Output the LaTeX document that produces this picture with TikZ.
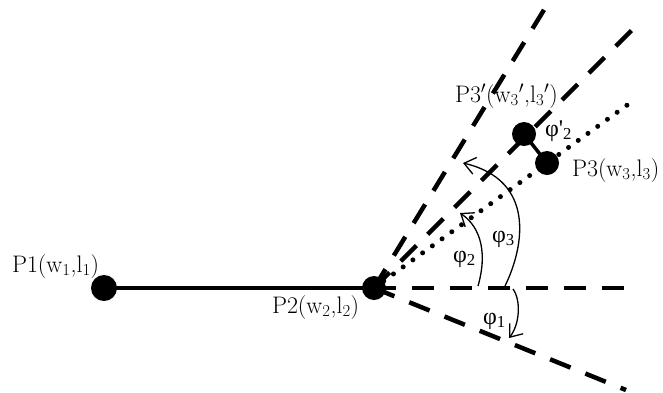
\documentclass[tikz,border=0pt]{standalone}
\usepackage{fontspec}
\newfontfamily\grk{Liberation Serif}
\usetikzlibrary{arrows.meta}
\begin{document}
\begin{tikzpicture}[x=1bp,y=-1bp,
  every node/.style={inner sep=0pt,outer sep=0pt,font=\fontsize{24}{28}\selectfont},
  pt/.style={circle,fill=black,minimum size=24bp},
  bigdash/.style={line width=4.5bp,dash pattern=on 22bp off 16bp},
  bigdot/.style={line width=5bp,line cap=round,dash pattern=on 0bp off 12bp},
  solidline/.style={line width=4.5bp},
  anglearrow/.style={line width=1.3bp,-{Straight Barb[length=11bp,width=17bp,line width=1.3bp]}},
  lbl/.style={anchor=base west},
  phi/.style={font=\fontsize{24}{28}\selectfont\grk}]
\useasboundingbox (0,0) rectangle (663,392);
% points
\coordinate (c1) at (104,288);
\coordinate (c2) at (374,288);
\coordinate (c3p) at (524,134);
\coordinate (c3) at (547,163);
% ends of rays
\coordinate (eh) at (628,288);
\coordinate (elow) at (626,390);
\coordinate (esteep) at (550,0);
\coordinate (e45) at (636,26);
\coordinate (edot) at (630,103);
% rays
\draw[bigdash] (c2) -- (eh);
\draw[bigdash] (c2) -- (elow);
\draw[bigdash] (c2) -- (esteep);
\draw[bigdash] (c2) -- (e45);
\draw[bigdot] (c2) -- (edot);
% solid segments
\draw[solidline] (c1) -- (c2);
\draw[line width=3.5bp] (c3p) -- (c3);
% dots
\node[pt,minimum size=26bp] (P1) at (c1) {};
\node[pt] (P2) at (c2) {};
\node[pt] (P3p) at (c3p) {};
\node[pt] (P3) at (c3) {};
% angle arrows
\coordinate (a2s) at (478,286);
\coordinate (a2e) at (460,213);
\draw[anglearrow] (a2s) .. controls (487,255) and (482,228) .. (a2e);
\coordinate (a3s) at (505,286);
\coordinate (a3e) at (463,163);
\draw[anglearrow] (a3s) .. controls (525,245) and (535,180) .. (a3e);
\coordinate (a1s) at (513,289);
\coordinate (a1e) at (509,338);
\draw[anglearrow] (a1s) .. controls (521,300) and (520,324) .. (a1e);
% labels
\node[lbl] (L1) at (12,272) {P1(w\textsubscript{1},l\textsubscript{1})};
\node[lbl] (L2) at (272,313) {P2(w\textsubscript{2},l\textsubscript{2})};
\node[lbl] (L3p) at (455,102) {P3$'$(w\textsubscript{3}$'$,l\textsubscript{3}$'$)};
\node[lbl] (L3) at (572,176) {P3(w\textsubscript{3},l\textsubscript{3})};
\node[phi,anchor=base west] (f2p) at (545,136) {φ'\textsubscript{2}};
\node[phi,anchor=base west] (f2) at (453,262) {φ\textsubscript{2}};
\node[phi,anchor=base west] (f3) at (492,242) {φ\textsubscript{3}};
\node[phi,anchor=base west] (f1) at (483,324) {φ\textsubscript{1}};
\end{tikzpicture}
\end{document}
